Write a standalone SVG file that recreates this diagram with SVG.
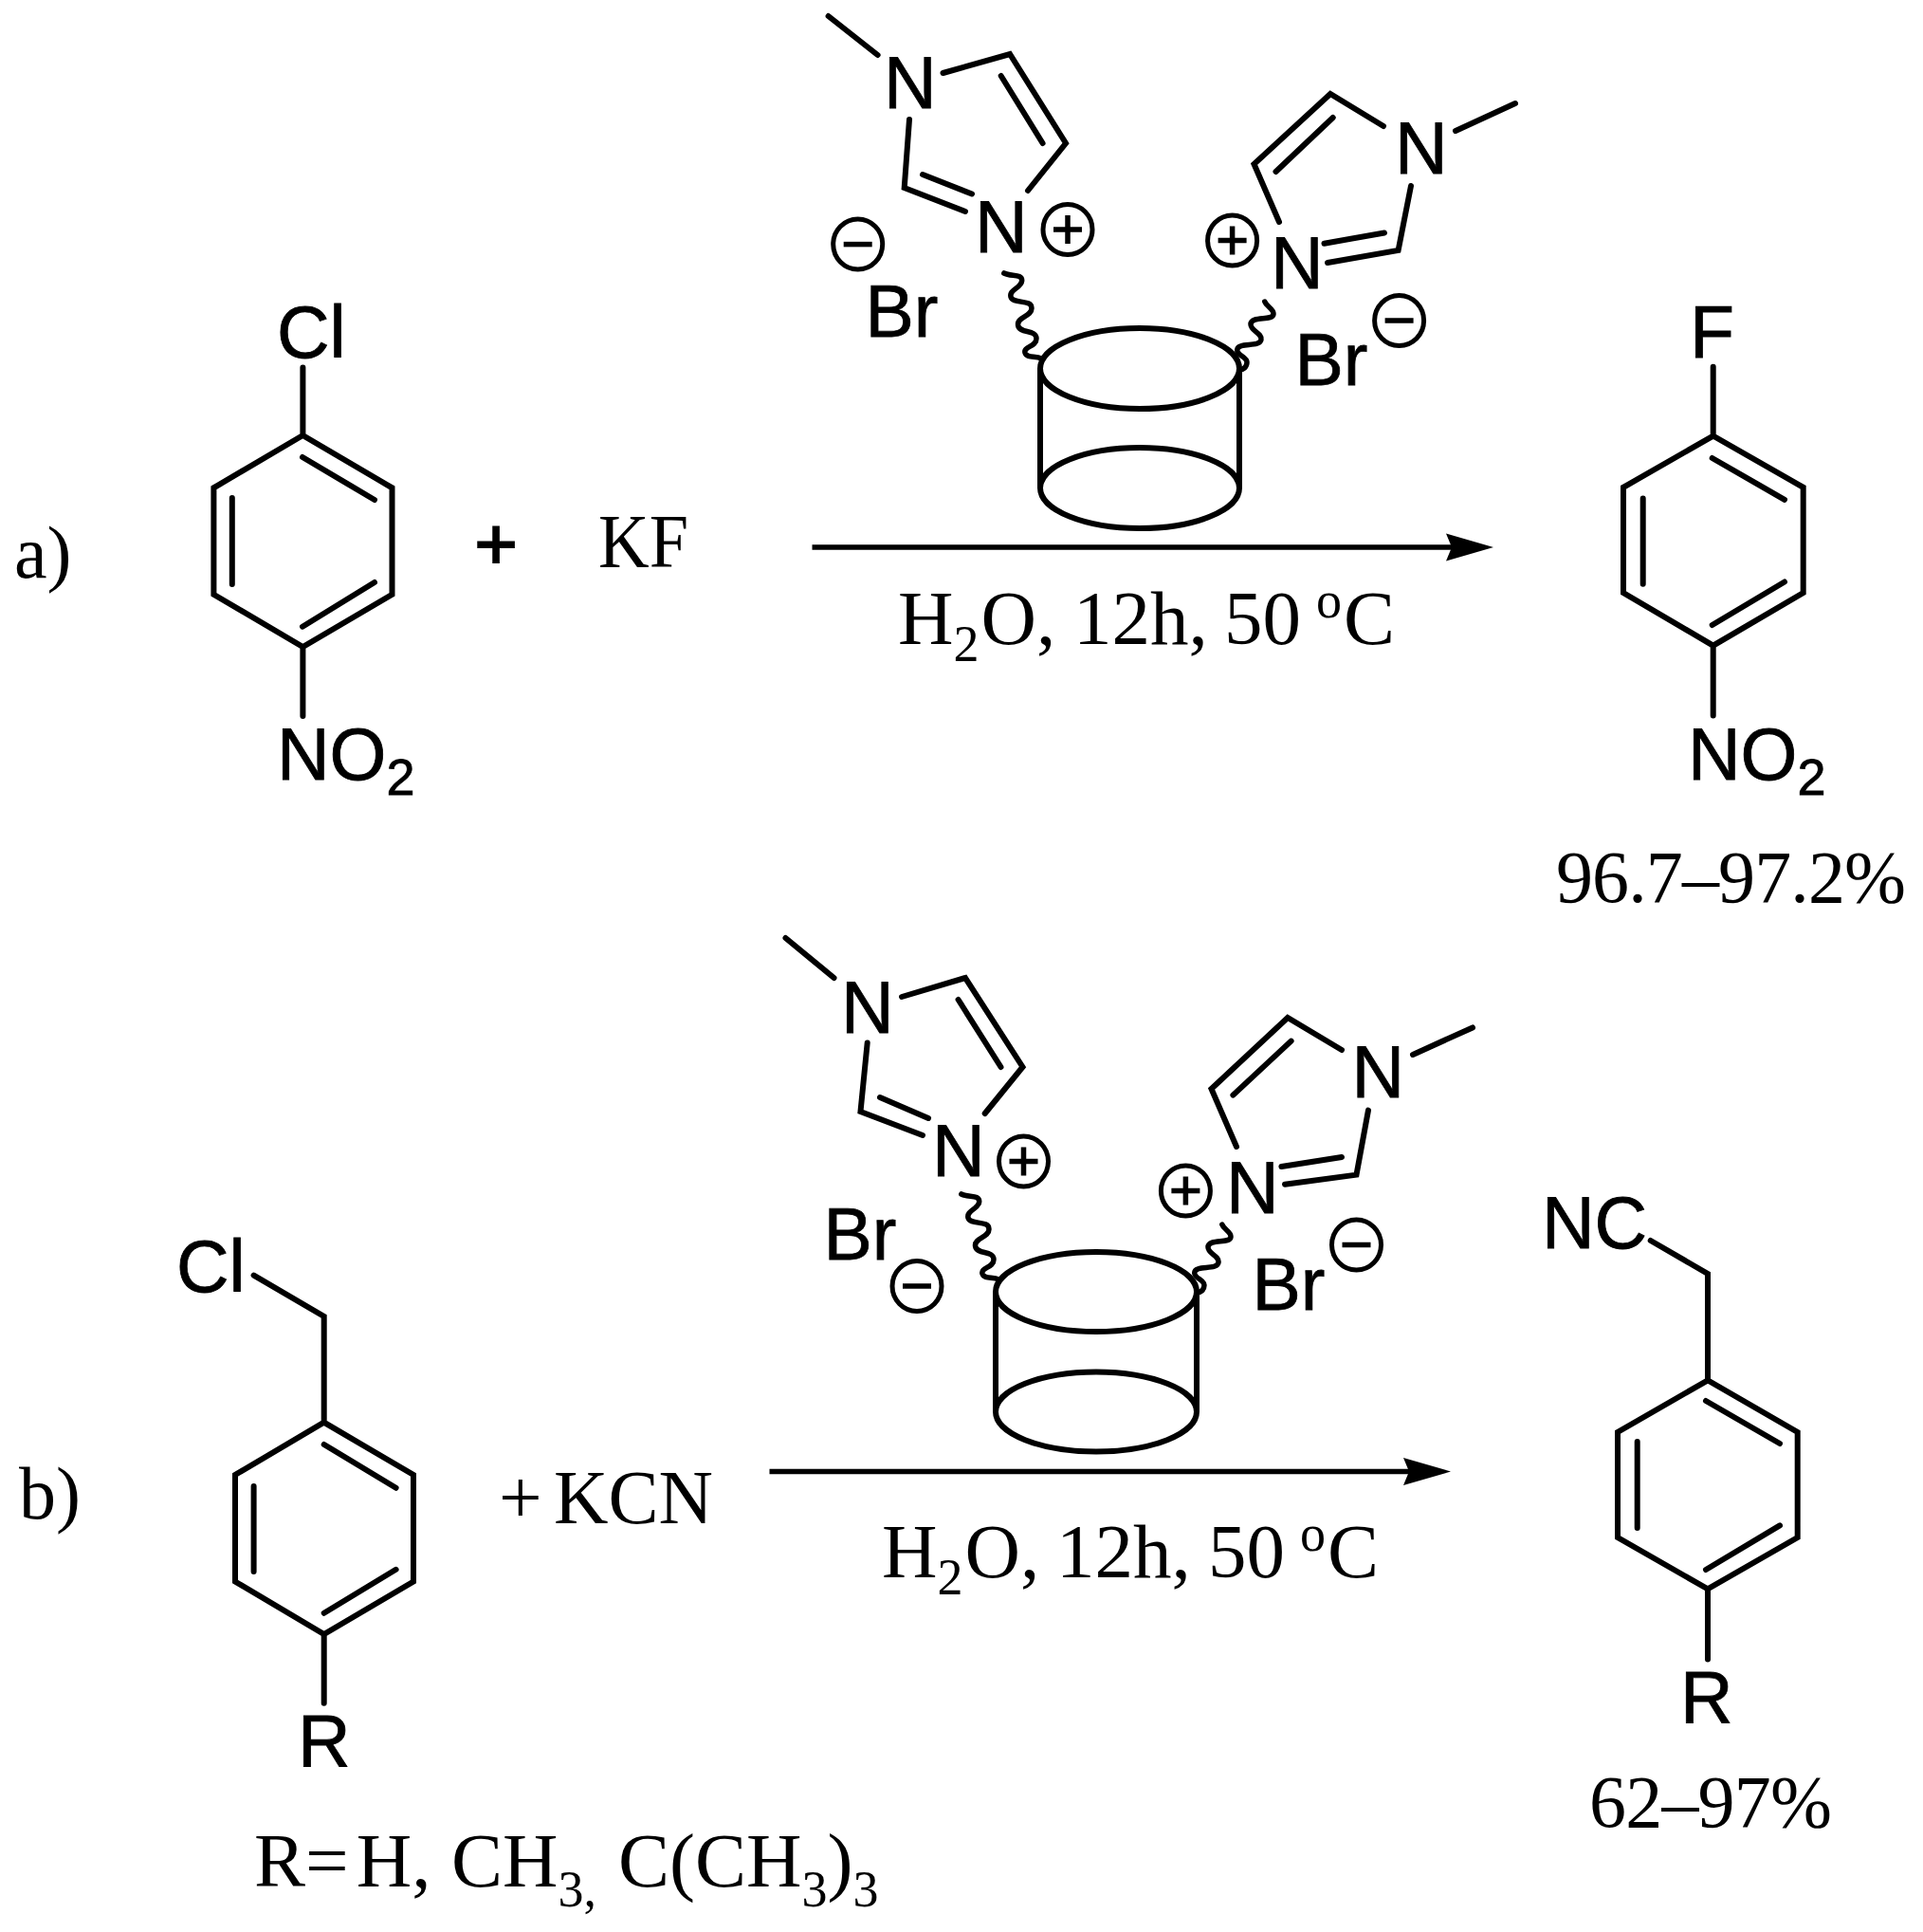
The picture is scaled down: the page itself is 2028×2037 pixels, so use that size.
<svg xmlns="http://www.w3.org/2000/svg" width="2028" height="2037" viewBox="0 0 2028 2037">
<style>
.b{fill:none;stroke:#000;stroke-width:6;stroke-linecap:round;stroke-linejoin:miter}
.w{fill:none;stroke:#000;stroke-width:5.5;stroke-linecap:round}
.c{fill:none;stroke:#000;stroke-width:6}
.s{font-family:"Liberation Sans",Arial,sans-serif;font-size:77px;fill:#000;stroke:#000;stroke-width:.8}
.t{font-family:"Liberation Serif","Times New Roman",serif;font-size:81px;fill:#000}
.l{font-family:"Liberation Serif","Times New Roman",serif;font-size:78px;fill:#000}
.p{font-family:"Liberation Serif","Times New Roman",serif;font-size:78px;fill:#000}
.bp{font-family:"Liberation Serif","Times New Roman",serif;font-size:81px;font-weight:700;fill:#000;stroke:#000;stroke-width:2}
.sub{font-size:54px}
</style>
<defs>
<marker id="ah" markerUnits="userSpaceOnUse" markerWidth="54" markerHeight="32" viewBox="0 -16 54 32" refX="6" refY="0" orient="auto"><path d="M0,-14.5 L50,0 L0,14.5 L6,0 Z" fill="#000"/></marker>
<g id="plus"><ellipse cx="0" cy="0" rx="26" ry="26.5" fill="none" stroke="#000" stroke-width="5"/><path d="M-15,0H15M0,-15V15" stroke="#000" stroke-width="5.5" fill="none"/></g>
<g id="minus"><ellipse cx="0" cy="0" rx="26" ry="26.5" fill="none" stroke="#000" stroke-width="5"/><path d="M-15,0H15" stroke="#000" stroke-width="5.5" fill="none"/></g>
</defs>
<rect width="2028" height="2037" fill="#fff"/>

<g id="label-a"><text class="l" x="15" y="609">a)</text></g>
<g id="label-b"><text class="l" x="20" y="1601">b)</text></g>

<g id="chlorobenzene-a">
<path class="b" d="M319.4,387.5V459L413.5,514.3V626.8L319.4,682L225.4,626.8V514.3L319.4,459M319.4,682V755M319,482L395,527M244.8,525V616M319,660.7L395,614"/>
<text class="s" x="292" y="377">Cl</text>
<text class="s" x="292" y="821.5">NO<tspan class="sub" dy="16">2</tspan></text>
</g>
<g id="plus-kf">
<text class="bp" x="500" y="601">+</text>
<text class="t" x="631" y="598" textLength="95" lengthAdjust="spacingAndGlyphs">KF</text>
</g>

<g id="catalyst-a">
<path class="b" d="M873.6,17L925.6,58M994.5,77L1065,57L1124,151L1084,201M1055.7,80L1099.6,151M959,126L953.7,198L1018,223M973,184L1025,204.5"/>
<path class="b" d="M1535,138L1598,109M1459,133L1403,99L1322.5,173L1349,234M1405.7,124L1345.5,181M1488,196L1474.6,264L1400,277M1460,245.5L1396.5,256.7"/>
<text class="s" x="932" y="114">N</text>
<text class="s" x="1028" y="266">N</text>
<text class="s" x="1471" y="183">N</text>
<text class="s" x="1340" y="304">N</text>
<text class="s" x="912.5" y="355">Br</text>
<text class="s" x="1365.5" y="406">Br</text>
<use href="#plus" x="1126" y="242"/>
<use href="#minus" x="904.7" y="257.6"/>
<use href="#plus" x="1299.6" y="253.6"/>
<use href="#minus" x="1475.6" y="338"/>
<path class="w" d="M1058.8,288C1066,292 1078,288 1077.7,296C1077,304 1064,305 1066,313C1068,321 1088,315 1088,325C1088,334 1072,334 1073.6,343C1075,352 1093,347 1093,357C1093,366 1079,365 1081,372C1083,378 1092,375 1098,378"/>
<path class="w" d="M1333.8,318C1336,324 1343,325 1343,331C1343,339 1319,332 1319,342C1319,349 1331,351 1330,358C1329,367 1305,360 1304.7,369C1304.5,375 1315,376 1315,382C1315,387 1311,390 1307,390"/>
<ellipse class="c" cx="1202" cy="388.5" rx="105" ry="42.5"/>
<ellipse class="c" cx="1202" cy="514.5" rx="105" ry="42.5"/>
<path class="c" d="M1097,388.5V514.5M1307,388.5V514.5"/>
</g>

<g id="connectors">
<line x1="856.5" y1="577" x2="1531" y2="577" stroke="#000" stroke-width="5.5" marker-end="url(#ah)"/>
<line x1="811.5" y1="1551.5" x2="1486" y2="1551.5" stroke="#000" stroke-width="5.5" marker-end="url(#ah)"/>
</g>

<g id="conditions-a">
<text class="t" x="947" y="678.5">H<tspan class="sub" dy="18">2</tspan><tspan dx="2" dy="-18">O,</tspan> <tspan x="1132">12h,</tspan> <tspan x="1291">50</tspan> <tspan class="sub" x="1388" dy="-28">o</tspan><tspan x="1417" dy="28">C</tspan></text>
</g>

<g id="fluoro-product">
<path class="b" d="M1806.7,386.7V459.6L1901.7,513.8V625L1806.7,680.7L1712,625V513.8L1806.7,459.6M1806.7,680.7V754.5M1805.7,483L1882,526.8M1732.7,525.5V615.7M1805.7,659L1882,613.5"/>
<text class="s" x="1782" y="377">F</text>
<text class="s" x="1780" y="821.5">NO<tspan class="sub" dy="16">2</tspan></text>
</g>
<g id="yield-a"><text class="p" x="1641" y="950.5" textLength="369">96.7–97.2%</text></g>

<g id="chlorobenzyl-b">
<path class="b" d="M267.6,1344.6L341.7,1388V1499.7L436,1555V1667.5L341.7,1723L248,1667.5V1555L341.7,1499.7M341.7,1723V1795.8M341.7,1523L417.6,1568.8M267.6,1567V1657M341.7,1700.8L417.6,1654.8"/>
<text class="s" x="186" y="1362">Cl</text>
<text class="s" x="314" y="1861.5">R</text>
</g>
<g id="plus-kcn">
<text class="t" x="526" y="1605.5">+</text>
<text class="t" x="584" y="1605.5" textLength="168" lengthAdjust="spacingAndGlyphs">KCN</text>
</g>
<g id="r-groups">
<text class="t" x="268" y="1988.5">R=<tspan font-size="32"> </tspan>H, <tspan x="476">CH</tspan><tspan class="sub" dy="21">3,</tspan> <tspan x="652" dy="-21">C(CH</tspan><tspan class="sub" dy="21">3</tspan><tspan dy="-21">)</tspan><tspan class="sub" dy="21">3</tspan></text>
</g>

<g id="catalyst-b">
<path class="b" d="M828.5,989L879.5,1031M951,1051L1018,1031L1078.5,1125L1038.7,1174M1010.6,1054L1055.5,1125M914.7,1099.5L907.5,1172L973,1197M928,1157L979,1179"/>
<path class="b" d="M1490,1112L1553,1083.4M1415,1107L1358,1073L1277.5,1148L1304,1209M1361.6,1097.6L1300.4,1154.6M1443,1170.6L1430.5,1238.6L1355,1248.7M1415,1220L1351.4,1230"/>
<text class="s" x="887" y="1088.5">N</text>
<text class="s" x="983" y="1240">N</text>
<text class="s" x="1425.5" y="1157">N</text>
<text class="s" x="1293" y="1278.5">N</text>
<text class="s" x="868.5" y="1328">Br</text>
<text class="s" x="1320.5" y="1381">Br</text>
<use href="#plus" x="1079.5" y="1224.4"/>
<use href="#minus" x="967" y="1356"/>
<use href="#plus" x="1250.4" y="1255.6"/>
<use href="#minus" x="1430.5" y="1312.5"/>
<path class="w" transform="translate(-45,971)" d="M1058.8,288C1066,292 1078,288 1077.7,296C1077,304 1064,305 1066,313C1068,321 1088,315 1088,325C1088,334 1072,334 1073.6,343C1075,352 1093,347 1093,357C1093,366 1079,365 1081,372C1083,378 1092,375 1098,378"/>
<path class="w" transform="translate(-45,973)" d="M1333.8,318C1336,324 1343,325 1343,331C1343,339 1319,332 1319,342C1319,349 1331,351 1330,358C1329,367 1305,360 1304.7,369C1304.5,375 1315,376 1315,382C1315,387 1311,390 1307,390"/>
<ellipse class="c" cx="1156" cy="1362" rx="106" ry="42"/>
<ellipse class="c" cx="1156" cy="1488.5" rx="106" ry="42"/>
<path class="c" d="M1050,1362V1488.5M1262,1362V1488.5"/>
</g>

<g id="conditions-b">
<text class="t" x="930" y="1663">H<tspan class="sub" dy="18">2</tspan><tspan dx="2" dy="-18">O,</tspan> <tspan x="1114">12h,</tspan> <tspan x="1274">50</tspan> <tspan class="sub" x="1371" dy="-28">o</tspan><tspan x="1400" dy="28">C</tspan></text>
</g>

<g id="nitrile-product">
<path class="b" d="M1740.7,1308L1801,1343V1455.3L1895.7,1510V1621L1801,1675.4L1706,1621V1510L1801,1455.3M1801,1675.4V1749.6M1799,1477L1877,1522M1726.7,1520V1611M1799,1655L1877,1608.4"/>
<text class="s" x="1626" y="1315.5">NC</text>
<text class="s" x="1772" y="1815.5">R</text>
</g>
<g id="yield-b"><text class="p" x="1676" y="1925.5" textLength="256">62–97%</text></g>
</svg>
